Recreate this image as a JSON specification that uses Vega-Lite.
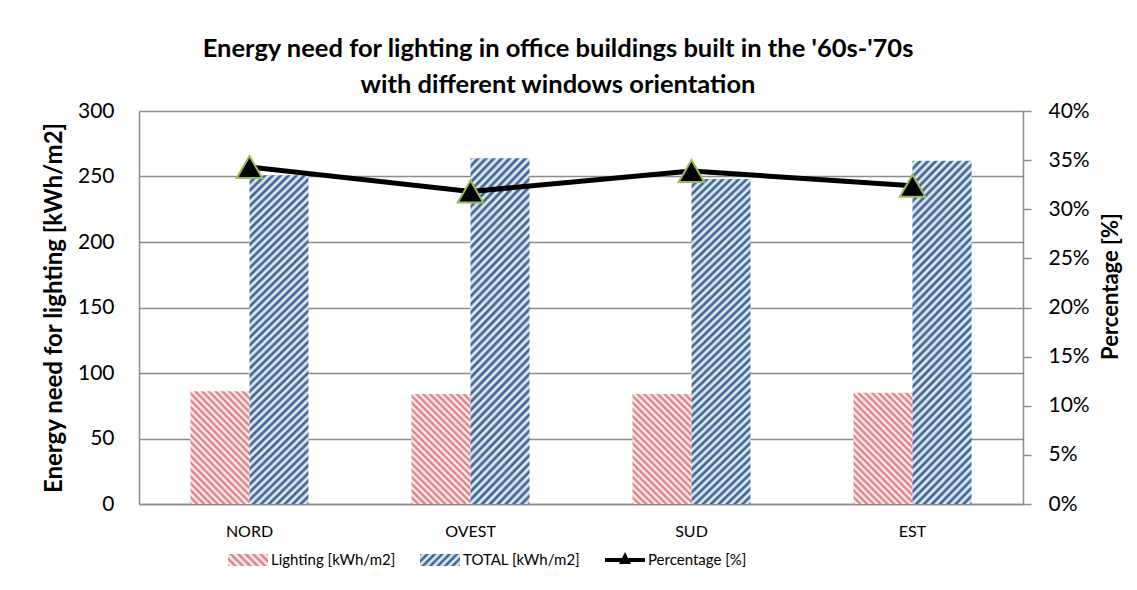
{
  "$schema": "https://vega.github.io/schema/vega-lite/v6.json",
  "width": 884,
  "height": 393,
  "autosize": "none",
  "padding": {"left": 139, "top": 111, "right": 114, "bottom": 86},
  "background": "white",
  "config": {
    "view": {"stroke": null},
    "font": "Lato",
    "axis": {"labelFont": "Lato", "titleFont": "Lato", "labelColor": "#000", "titleColor": "#000", "domainColor": "#8c8c8c", "domainWidth": 1.5, "gridColor": "#8c8c8c", "gridWidth": 1.5, "tickColor": "#8c8c8c", "tickWidth": 1.5}
  },
  "title": {
    "text": ["Energy need for lighting in office buildings built in the '60s-'70s", "with different windows orientation"],
    "font": "Lato", "fontSize": 25.5, "fontWeight": "bold", "color": "#000",
    "anchor": "middle", "frame": "group", "dx": -23, "offset": 2, "lineHeight": 36
  },
  "data": {
    "values": [
      {"dir": "NORD", "series": "Lighting [kWh/m2]", "value": 86},
      {"dir": "OVEST", "series": "Lighting [kWh/m2]", "value": 84},
      {"dir": "SUD", "series": "Lighting [kWh/m2]", "value": 84},
      {"dir": "EST", "series": "Lighting [kWh/m2]", "value": 85},
      {"dir": "NORD", "series": "TOTAL [kWh/m2]", "value": 251},
      {"dir": "OVEST", "series": "TOTAL [kWh/m2]", "value": 264},
      {"dir": "SUD", "series": "TOTAL [kWh/m2]", "value": 248},
      {"dir": "EST", "series": "TOTAL [kWh/m2]", "value": 262},
      {"dir": "NORD", "series": "Percentage [%]", "value": 0.343},
      {"dir": "OVEST", "series": "Percentage [%]", "value": 0.318},
      {"dir": "SUD", "series": "Percentage [%]", "value": 0.339},
      {"dir": "EST", "series": "Percentage [%]", "value": 0.324}
    ]
  },
  "encoding": {
    "x": {
      "field": "dir", "type": "nominal", "sort": ["NORD", "OVEST", "SUD", "EST"],
      "scale": {"paddingInner": 0.466, "paddingOuter": 0.233},
      "axis": {"title": null, "labelAngle": 0, "labelFontSize": 16, "ticks": false, "tickSize": 0, "labelPadding": 19, "domain": true, "grid": false}
    }
  },
  "layer": [
    {
      "encoding": {
        "xOffset": {"field": "series", "type": "nominal", "scale": {"domain": ["Lighting [kWh/m2]", "TOTAL [kWh/m2]"], "paddingInner": 0, "paddingOuter": 0}},
        "y": {
          "field": "value", "type": "quantitative",
          "scale": {"domain": [0, 300], "nice": false},
          "axis": {"title": "Energy need for lighting [kWh/m2]", "titleFontSize": 24, "titleFontWeight": "bold", "titlePadding": 11, "labelFontSize": 21, "values": [0, 50, 100, 150, 200, 250, 300], "grid": true, "ticks": false, "tickSize": 0, "labelPadding": 25, "domain": true}
        }
      },
      "layer": [
        {
          "transform": [{"filter": "datum.series === 'Lighting [kWh/m2]'"}],
          "mark": {
            "type": "bar",
            "fill": {
              "gradient": "linear", "x1": 0, "y1": 1, "x2": 0.64, "y2": -0.193,
              "stops": [
                {"offset": 0, "color": "#da7075"}, {"offset": 0.02, "color": "#ffffff"}, {"offset": 0.04, "color": "#da7075"}, {"offset": 0.06, "color": "#ffffff"},
                {"offset": 0.08, "color": "#da7075"}, {"offset": 0.1, "color": "#ffffff"}, {"offset": 0.12, "color": "#da7075"}, {"offset": 0.14, "color": "#ffffff"},
                {"offset": 0.16, "color": "#da7075"}, {"offset": 0.18, "color": "#ffffff"}, {"offset": 0.2, "color": "#da7075"}, {"offset": 0.22, "color": "#ffffff"},
                {"offset": 0.24, "color": "#da7075"}, {"offset": 0.26, "color": "#ffffff"}, {"offset": 0.28, "color": "#da7075"}, {"offset": 0.3, "color": "#ffffff"},
                {"offset": 0.32, "color": "#da7075"}, {"offset": 0.34, "color": "#ffffff"}, {"offset": 0.36, "color": "#da7075"}, {"offset": 0.38, "color": "#ffffff"},
                {"offset": 0.4, "color": "#da7075"}, {"offset": 0.42, "color": "#ffffff"}, {"offset": 0.44, "color": "#da7075"}, {"offset": 0.46, "color": "#ffffff"},
                {"offset": 0.48, "color": "#da7075"}, {"offset": 0.5, "color": "#ffffff"}, {"offset": 0.52, "color": "#da7075"}, {"offset": 0.54, "color": "#ffffff"},
                {"offset": 0.56, "color": "#da7075"}, {"offset": 0.58, "color": "#ffffff"}, {"offset": 0.6, "color": "#da7075"}, {"offset": 0.62, "color": "#ffffff"},
                {"offset": 0.64, "color": "#da7075"}, {"offset": 0.66, "color": "#ffffff"}, {"offset": 0.68, "color": "#da7075"}, {"offset": 0.7, "color": "#ffffff"},
                {"offset": 0.72, "color": "#da7075"}, {"offset": 0.74, "color": "#ffffff"}, {"offset": 0.76, "color": "#da7075"}, {"offset": 0.78, "color": "#ffffff"},
                {"offset": 0.8, "color": "#da7075"}, {"offset": 0.82, "color": "#ffffff"}, {"offset": 0.84, "color": "#da7075"}, {"offset": 0.86, "color": "#ffffff"},
                {"offset": 0.88, "color": "#da7075"}, {"offset": 0.9, "color": "#ffffff"}, {"offset": 0.92, "color": "#da7075"}, {"offset": 0.94, "color": "#ffffff"},
                {"offset": 0.96, "color": "#da7075"}, {"offset": 0.98, "color": "#ffffff"}, {"offset": 1, "color": "#da7075"}
              ]
            }
          }
        },
        {
          "transform": [{"filter": "datum.series === 'TOTAL [kWh/m2]'"}],
          "mark": {
            "type": "bar",
            "fill": {
              "gradient": "linear", "x1": 0, "y1": 0, "x2": 0.2007, "y2": 1.1406,
              "stops": [
                {"offset": 0, "color": "#21518a"}, {"offset": 0.01, "color": "#ffffff"}, {"offset": 0.02, "color": "#21518a"}, {"offset": 0.03, "color": "#ffffff"},
                {"offset": 0.04, "color": "#21518a"}, {"offset": 0.05, "color": "#ffffff"}, {"offset": 0.06, "color": "#21518a"}, {"offset": 0.07, "color": "#ffffff"},
                {"offset": 0.08, "color": "#21518a"}, {"offset": 0.09, "color": "#ffffff"}, {"offset": 0.1, "color": "#21518a"}, {"offset": 0.11, "color": "#ffffff"},
                {"offset": 0.12, "color": "#21518a"}, {"offset": 0.13, "color": "#ffffff"}, {"offset": 0.14, "color": "#21518a"}, {"offset": 0.15, "color": "#ffffff"},
                {"offset": 0.16, "color": "#21518a"}, {"offset": 0.17, "color": "#ffffff"}, {"offset": 0.18, "color": "#21518a"}, {"offset": 0.19, "color": "#ffffff"},
                {"offset": 0.2, "color": "#21518a"}, {"offset": 0.21, "color": "#ffffff"}, {"offset": 0.22, "color": "#21518a"}, {"offset": 0.23, "color": "#ffffff"},
                {"offset": 0.24, "color": "#21518a"}, {"offset": 0.25, "color": "#ffffff"}, {"offset": 0.26, "color": "#21518a"}, {"offset": 0.27, "color": "#ffffff"},
                {"offset": 0.28, "color": "#21518a"}, {"offset": 0.29, "color": "#ffffff"}, {"offset": 0.3, "color": "#21518a"}, {"offset": 0.31, "color": "#ffffff"},
                {"offset": 0.32, "color": "#21518a"}, {"offset": 0.33, "color": "#ffffff"}, {"offset": 0.34, "color": "#21518a"}, {"offset": 0.35, "color": "#ffffff"},
                {"offset": 0.36, "color": "#21518a"}, {"offset": 0.37, "color": "#ffffff"}, {"offset": 0.38, "color": "#21518a"}, {"offset": 0.39, "color": "#ffffff"},
                {"offset": 0.4, "color": "#21518a"}, {"offset": 0.41, "color": "#ffffff"}, {"offset": 0.42, "color": "#21518a"}, {"offset": 0.43, "color": "#ffffff"},
                {"offset": 0.44, "color": "#21518a"}, {"offset": 0.45, "color": "#ffffff"}, {"offset": 0.46, "color": "#21518a"}, {"offset": 0.47, "color": "#ffffff"},
                {"offset": 0.48, "color": "#21518a"}, {"offset": 0.49, "color": "#ffffff"}, {"offset": 0.5, "color": "#21518a"}, {"offset": 0.51, "color": "#ffffff"},
                {"offset": 0.52, "color": "#21518a"}, {"offset": 0.53, "color": "#ffffff"}, {"offset": 0.54, "color": "#21518a"}, {"offset": 0.55, "color": "#ffffff"},
                {"offset": 0.56, "color": "#21518a"}, {"offset": 0.57, "color": "#ffffff"}, {"offset": 0.58, "color": "#21518a"}, {"offset": 0.59, "color": "#ffffff"},
                {"offset": 0.6, "color": "#21518a"}, {"offset": 0.61, "color": "#ffffff"}, {"offset": 0.62, "color": "#21518a"}, {"offset": 0.63, "color": "#ffffff"},
                {"offset": 0.64, "color": "#21518a"}, {"offset": 0.65, "color": "#ffffff"}, {"offset": 0.66, "color": "#21518a"}, {"offset": 0.67, "color": "#ffffff"},
                {"offset": 0.68, "color": "#21518a"}, {"offset": 0.69, "color": "#ffffff"}, {"offset": 0.7, "color": "#21518a"}, {"offset": 0.71, "color": "#ffffff"},
                {"offset": 0.72, "color": "#21518a"}, {"offset": 0.73, "color": "#ffffff"}, {"offset": 0.74, "color": "#21518a"}, {"offset": 0.75, "color": "#ffffff"},
                {"offset": 0.76, "color": "#21518a"}, {"offset": 0.77, "color": "#ffffff"}, {"offset": 0.78, "color": "#21518a"}, {"offset": 0.79, "color": "#ffffff"},
                {"offset": 0.8, "color": "#21518a"}, {"offset": 0.81, "color": "#ffffff"}, {"offset": 0.82, "color": "#21518a"}, {"offset": 0.83, "color": "#ffffff"},
                {"offset": 0.84, "color": "#21518a"}, {"offset": 0.85, "color": "#ffffff"}, {"offset": 0.86, "color": "#21518a"}, {"offset": 0.87, "color": "#ffffff"},
                {"offset": 0.88, "color": "#21518a"}, {"offset": 0.89, "color": "#ffffff"}, {"offset": 0.9, "color": "#21518a"}, {"offset": 0.91, "color": "#ffffff"},
                {"offset": 0.92, "color": "#21518a"}, {"offset": 0.93, "color": "#ffffff"}, {"offset": 0.94, "color": "#21518a"}, {"offset": 0.95, "color": "#ffffff"},
                {"offset": 0.96, "color": "#21518a"}, {"offset": 0.97, "color": "#ffffff"}, {"offset": 0.98, "color": "#21518a"}, {"offset": 0.99, "color": "#ffffff"},
                {"offset": 1, "color": "#21518a"}
              ]
            }
          }
        }
      ]
    },
    {
      "transform": [{"filter": "datum.series === 'Percentage [%]'"}],
      "encoding": {
        "y": {
          "field": "value", "type": "quantitative",
          "scale": {"domain": [0, 0.4], "nice": false},
          "axis": {"orient": "right", "title": "Percentage [%]", "titleAngle": -90, "titleBaseline": "top", "titleAlign": "center", "titleY": 175, "titleFontSize": 22, "titleFontWeight": "bold", "titlePadding": 11, "labelFontSize": 21, "format": ".0%", "values": [0, 0.05, 0.1, 0.15, 0.2, 0.25, 0.3, 0.35, 0.4], "grid": false, "ticks": true, "tickSize": 8, "labelPadding": 17, "domain": true}
        }
      },
      "layer": [
        {
          "mark": {"type": "line", "strokeWidth": 5},
          "encoding": {
            "color": {
              "field": "series", "type": "nominal",
              "scale": {"domain": ["Lighting [kWh/m2]", "TOTAL [kWh/m2]", "Percentage [%]"], "range": ["#e3999b", "#21518a", "#000000"]},
              "legend": {
                "title": null, "orient": "none", "legendX": 89, "legendY": 429, "direction": "horizontal", "columns": 3,
                "columnPadding": 24, "labelFontSize": 15, "labelFont": "Lato", "labelColor": "#000", "labelOffset": 3, "symbolSize": 1600, "symbolStrokeWidth": 0,
                "encode": {
                  "symbols": {
                    "update": {
                      "shape": [
                        {"test": "datum.value === 'Percentage [%]'", "value": "M-1,-0.1H-0.15L0,-0.4L0.15,-0.1H1V0.1H0.25L0.3,0.2H-0.3L-0.25,0.1H-1Z"},
                        {"value": "M-1,-0.3H1V0.3H-1Z"}
                      ],
                      "fill": {"signal": "datum.value === 'Lighting [kWh/m2]' ? {gradient: 'linear', x1: 0, y1: 1, x2: 1.1927, y2: 0.642, stops: [{offset: 0, color: '#da7075'}, {offset: 0.0714, color: '#fff'}, {offset: 0.1429, color: '#da7075'}, {offset: 0.2143, color: '#fff'}, {offset: 0.2857, color: '#da7075'}, {offset: 0.3571, color: '#fff'}, {offset: 0.4286, color: '#da7075'}, {offset: 0.5, color: '#fff'}, {offset: 0.5714, color: '#da7075'}, {offset: 0.6429, color: '#fff'}, {offset: 0.7143, color: '#da7075'}, {offset: 0.7857, color: '#fff'}, {offset: 0.8571, color: '#da7075'}, {offset: 0.9286, color: '#fff'}, {offset: 1, color: '#da7075'}]} : datum.value === 'TOTAL [kWh/m2]' ? {gradient: 'linear', x1: 0, y1: 0, x2: 1.1927, y2: 0.3578, stops: [{offset: 0, color: '#21518a'}, {offset: 0.0714, color: '#fff'}, {offset: 0.1429, color: '#21518a'}, {offset: 0.2143, color: '#fff'}, {offset: 0.2857, color: '#21518a'}, {offset: 0.3571, color: '#fff'}, {offset: 0.4286, color: '#21518a'}, {offset: 0.5, color: '#fff'}, {offset: 0.5714, color: '#21518a'}, {offset: 0.6429, color: '#fff'}, {offset: 0.7143, color: '#21518a'}, {offset: 0.7857, color: '#fff'}, {offset: 0.8571, color: '#21518a'}, {offset: 0.9286, color: '#fff'}, {offset: 1, color: '#21518a'}]} : '#000000'"},
                      "fillOpacity": {"value": 1},
                      "strokeWidth": {"value": 0},
                      "opacity": {"value": 1},
                      "size": {"value": 1600}
                    }
                  }
                }
              }
            }
          }
        },
        {
          "mark": {"type": "point", "shape": "triangle-up", "size": 650, "filled": true, "fill": "#000000", "opacity": 1, "stroke": "#9bbb59", "strokeWidth": 2}
        }
      ]
    }
  ],
  "resolve": {"scale": {"y": "independent"}, "axis": {"y": "independent"}}
}
